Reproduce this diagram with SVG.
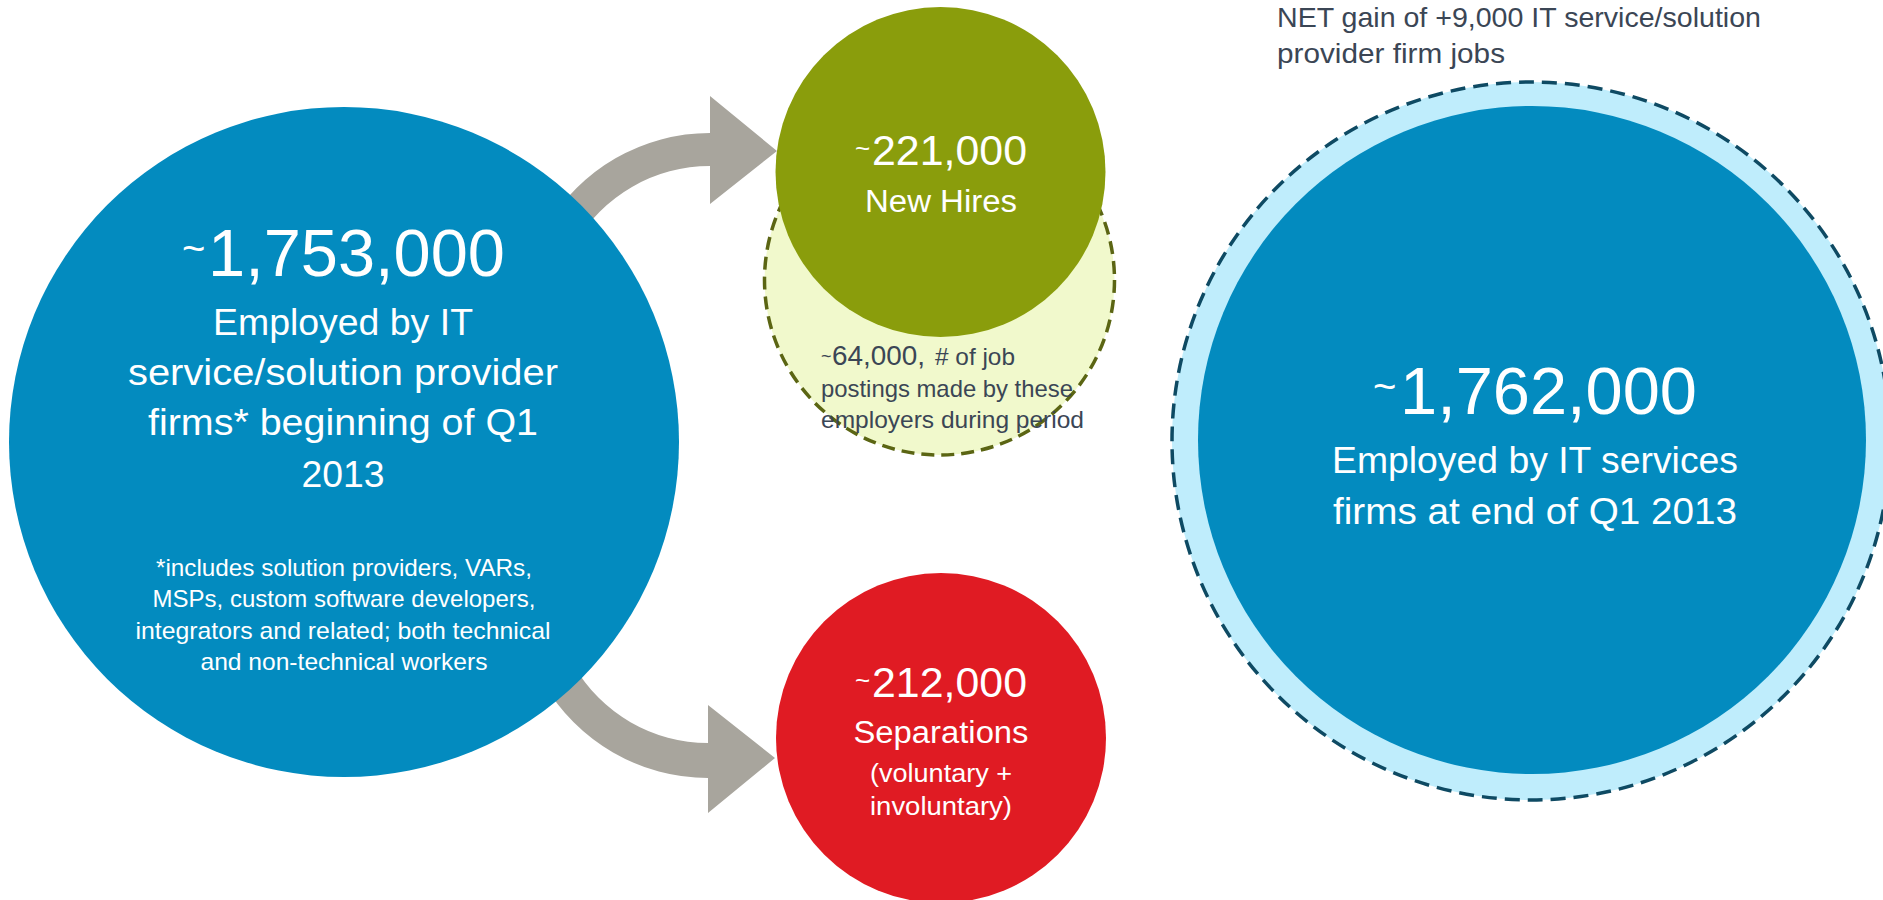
<svg xmlns="http://www.w3.org/2000/svg" width="1883" height="900" viewBox="0 0 1883 900">
<style>
text{font-family:"Liberation Sans","Arial",sans-serif;}
.w{fill:#FFFFFF;}
.d{fill:#3B4655;}
.big{font-size:66px;}
.til{font-size:40px;}
.lbl{font-size:37px;}
.fn{font-size:24px;}
.mid{font-size:42px;}
.tm{font-size:26px;}
.arrow{fill:#A8A59D;}
.blue{fill:#038BBF;}
</style>
<rect x="0" y="0" width="1883" height="900" fill="#FFFFFF"/>

<g id="connectors">
  <path class="arrow" d="M546.3 227.5 A189 189 0 0 1 710 133 L710 96 L777 151 L710 204 L710 166 A156 156 0 0 0 574.9 244 Z"/>
  <path class="arrow" d="M543.5 683 A190 190 0 0 0 708 778 L708 813 L775 758 L708 705 L708 743 A155 155 0 0 1 573.8 665.5 Z"/>
</g>

<g id="node-start">
  <circle class="blue" cx="344" cy="442" r="335"/>
  <text class="w til" x="182" y="262">~</text>
  <text class="w big" x="208" y="276" textLength="297" lengthAdjust="spacingAndGlyphs">1,753,000</text>
  <text class="w lbl" x="343" y="335" text-anchor="middle" textLength="260" lengthAdjust="spacingAndGlyphs">Employed by IT</text>
  <text class="w lbl" x="343" y="385" text-anchor="middle" textLength="430" lengthAdjust="spacingAndGlyphs">service/solution provider</text>
  <text class="w lbl" x="343" y="435" text-anchor="middle" textLength="390" lengthAdjust="spacingAndGlyphs">firms* beginning of Q1</text>
  <text class="w lbl" x="343" y="487" text-anchor="middle" textLength="83" lengthAdjust="spacingAndGlyphs">2013</text>
  <text class="w fn" x="344" y="576" text-anchor="middle" textLength="376" lengthAdjust="spacingAndGlyphs">*includes solution providers, VARs,</text>
  <text class="w fn" x="344" y="607" text-anchor="middle" textLength="383" lengthAdjust="spacingAndGlyphs">MSPs, custom software developers,</text>
  <text class="w fn" x="343" y="639" text-anchor="middle" textLength="415" lengthAdjust="spacingAndGlyphs">integrators and related; both technical</text>
  <text class="w fn" x="344" y="670" text-anchor="middle" textLength="287" lengthAdjust="spacingAndGlyphs">and non-technical workers</text>
</g>

<g id="node-postings">
  <circle cx="939.5" cy="280" r="175" fill="#F1F9CC" stroke="#5B6513" stroke-width="3.5" stroke-dasharray="13 7"/>
  <text class="d" x="821" y="362" font-size="18">~</text>
  <text class="d" x="832" y="365" font-size="28" textLength="93" lengthAdjust="spacingAndGlyphs">64,000,</text>
  <text class="d fn" x="935" y="365" textLength="80" lengthAdjust="spacingAndGlyphs"># of job</text>
  <text class="d fn" x="821" y="397" textLength="252" lengthAdjust="spacingAndGlyphs">postings made by these</text>
  <text class="d fn" x="821" y="428" textLength="263" lengthAdjust="spacingAndGlyphs">employers during period</text>
</g>

<g id="node-hires">
  <circle cx="940.5" cy="172" r="165" fill="#8A9D0C"/>
  <text class="w tm" x="855" y="157">~</text>
  <text class="w mid" x="872" y="165" textLength="155" lengthAdjust="spacingAndGlyphs">221,000</text>
  <text class="w" x="941" y="212" font-size="31" text-anchor="middle" textLength="152" lengthAdjust="spacingAndGlyphs">New Hires</text>
</g>

<g id="node-separations">
  <circle cx="941" cy="738" r="165" fill="#E01B23"/>
  <text class="w tm" x="855" y="689">~</text>
  <text class="w mid" x="872" y="697" textLength="155" lengthAdjust="spacingAndGlyphs">212,000</text>
  <text class="w" x="941" y="743" font-size="31" text-anchor="middle" textLength="175" lengthAdjust="spacingAndGlyphs">Separations</text>
  <text class="w tm" x="941" y="782" text-anchor="middle" textLength="142" lengthAdjust="spacingAndGlyphs">(voluntary +</text>
  <text class="w tm" x="941" y="815" text-anchor="middle" textLength="142" lengthAdjust="spacingAndGlyphs">involuntary)</text>
</g>

<g id="node-end">
  <circle cx="1531" cy="441" r="359" fill="#BFEDFC" stroke="#0E4A63" stroke-width="3.5" stroke-dasharray="15 8"/>
  <circle class="blue" cx="1532" cy="440" r="334"/>
  <text class="w til" x="1373" y="400">~</text>
  <text class="w big" x="1400" y="414" textLength="297" lengthAdjust="spacingAndGlyphs">1,762,000</text>
  <text class="w lbl" x="1535" y="473" text-anchor="middle" textLength="406" lengthAdjust="spacingAndGlyphs">Employed by IT services</text>
  <text class="w lbl" x="1535" y="524" text-anchor="middle" textLength="404" lengthAdjust="spacingAndGlyphs">firms at end of Q1 2013</text>
</g>

<g id="note-net">
  <text class="d" x="1277" y="27" font-size="28" textLength="484" lengthAdjust="spacingAndGlyphs">NET gain of +9,000 IT service/solution</text>
  <text class="d" x="1277" y="63" font-size="28" textLength="228" lengthAdjust="spacingAndGlyphs">provider firm jobs</text>
</g>
</svg>
